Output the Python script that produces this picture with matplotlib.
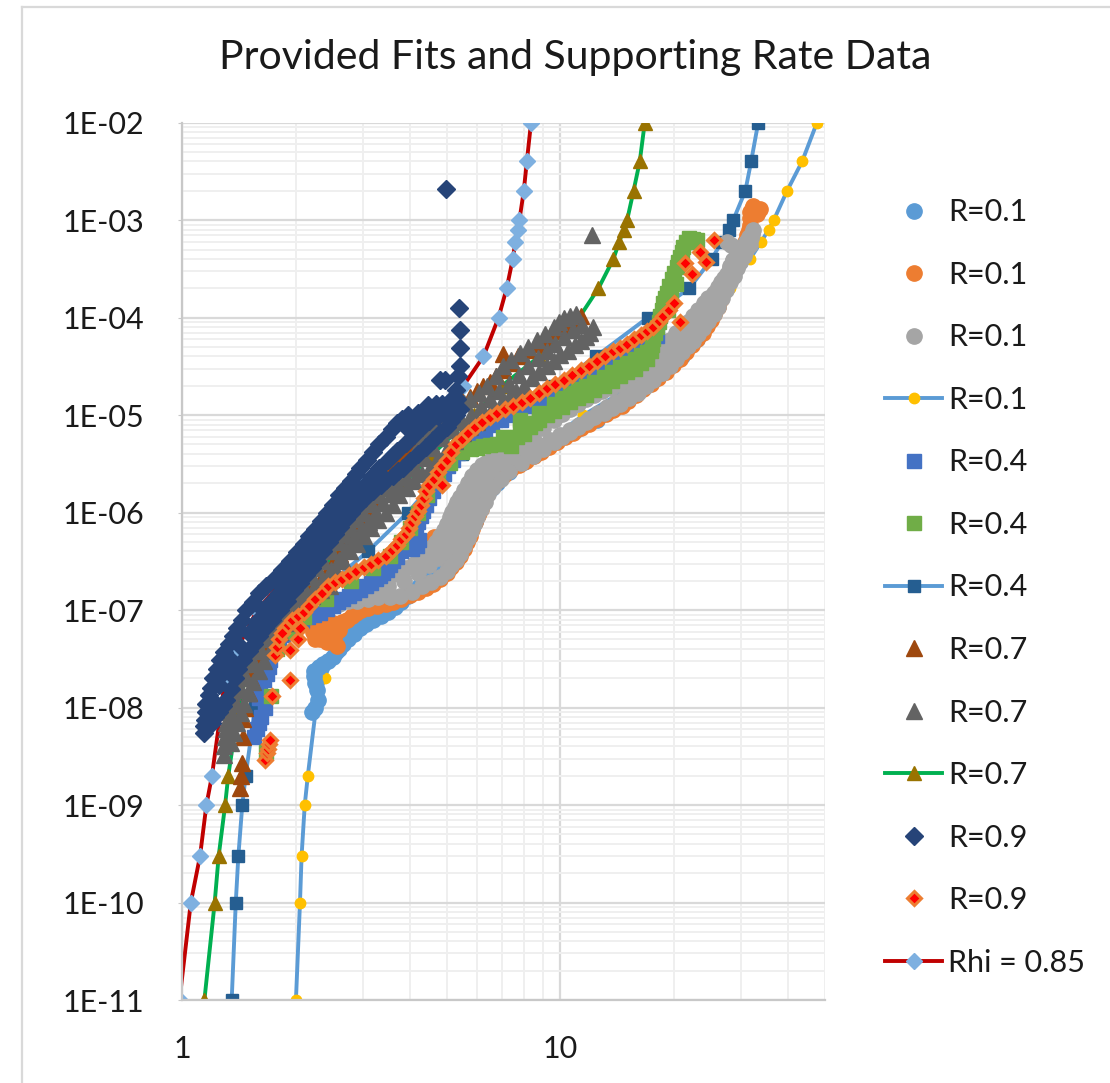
import numpy as np
import matplotlib
matplotlib.use("Agg")
import matplotlib.pyplot as plt
from matplotlib.lines import Line2D
from matplotlib.ticker import LogLocator, FixedLocator, NullFormatter, FuncFormatter

plt.rcParams['font.family'] = ['Lato', 'DejaVu Sans']

# ---- measured rate data (x = driving force, y = rate) ----
# R=0.1, first set (light blue circles)
r01a_x = [2.2, 2.25, 2.29, 2.27, 2.25, 2.23, 2.23, 2.3, 2.36, 2.43, 2.5, 2.55, 2.6, 2.67, 2.75, 2.85,
          2.95, 3.07, 3.2, 3.35, 3.5, 3.65, 3.8, 3.95, 4.09, 4.25, 4.4, 4.6, 4.8, 4.97, 5.15, 5.3,
          5.43, 5.57, 5.7, 5.82, 5.95, 6.05, 6.13, 6.25, 6.4, 6.6, 6.79, 7.3, 8.0, 8.8, 9.8, 11.0,
          12.5, 14.0, 15.5, 17.0, 19.0, 21.0, 23.0, 24.5, 26.0, 27.5, 29.0, 30.5]
r01a_y = [9e-9, 1e-8, 1.2e-8, 1.5e-8, 1.8e-8, 2.1e-8, 2.4e-8, 2.6e-8, 2.8e-8, 3e-8, 3.3e-8, 3.7e-8,
          4e-8, 4.5e-8, 5e-8, 5.7e-8, 6.5e-8, 7.2e-8, 8e-8, 8.8e-8, 9.5e-8, 1.07e-7, 1.2e-7, 1.4e-7,
          1.6e-7, 1.8e-7, 2e-7, 2.3e-7, 2.6e-7, 2.9e-7, 3.2e-7, 3.5e-7, 3.8e-7, 4.5e-7, 5.5e-7,
          6.6e-7, 8e-7, 9.6e-7, 1.15e-6, 1.35e-6, 1.6e-6, 1.8e-6, 2e-6, 2.6e-6, 3.3e-6, 4.2e-6,
          5.5e-6, 7e-6, 9e-6, 1.2e-5, 1.6e-5, 2.1e-5, 3e-5, 4e-5, 6e-5, 9e-5, 1.4e-4, 2.2e-4,
          3.5e-4, 5.5e-4]

# R=0.1, second set (orange circles)
r01b_x = [2.22, 2.25, 2.28, 2.3, 2.32, 2.36, 2.4, 2.42, 2.46, 2.5, 2.52, 2.55, 2.56, 2.6, 2.65,
          2.73, 2.81, 2.89, 2.98, 3.1, 3.27, 3.45, 3.62, 3.8, 4.0, 4.2, 4.4, 4.6, 4.62, 4.8, 5.0,
          5.15, 5.3, 5.43, 5.55, 5.65, 5.75, 5.85, 5.95, 6.05, 6.15, 6.27, 6.4, 6.6, 6.8, 7.1, 7.4,
          7.75, 8.1, 8.5, 8.9, 9.35, 9.8, 10.3, 10.8, 11.3, 11.9, 12.5, 13.2, 13.8, 14.5, 15.1,
          15.8, 16.5, 17.3, 18.1, 19.0, 19.8, 20.7, 21.5, 22.3, 23.0, 23.8, 24.4, 25.0, 25.5, 26.0,
          26.5, 27.0, 27.6, 28.2, 28.7, 29.2, 29.7, 30.2, 30.7, 31.2, 31.5, 31.7, 31.7, 31.7, 32.0,
          32.3, 33.0, 33.3, 33.6]
r01b_y = [6e-8, 5e-8, 5.5e-8, 7e-8, 5e-8, 6.2e-8, 6.8e-8, 4.7e-8, 5.9e-8, 7.3e-8, 5.2e-8, 7e-8,
          4.3e-8, 6.3e-8, 7.6e-8, 7.9e-8, 8.6e-8, 9.4e-8, 1e-7, 1.05e-7, 1.1e-7, 1.15e-7, 1.22e-7,
          1.3e-7, 1.42e-7, 1.55e-7, 1.7e-7, 1.85e-7, 5.6e-7, 2.1e-7, 2.4e-7, 2.75e-7, 3.1e-7,
          3.6e-7, 4.2e-7, 5e-7, 5.8e-7, 6.8e-7, 8e-7, 9.4e-7, 1.1e-6, 1.33e-6, 1.6e-6, 1.85e-6,
          2.1e-6, 2.45e-6, 2.8e-6, 3.1e-6, 3.4e-6, 3.8e-6, 4.2e-6, 4.7e-6, 5.3e-6, 5.9e-6, 6.6e-6,
          7.4e-6, 8.2e-6, 9.2e-6, 1.02e-5, 1.12e-5, 1.25e-5, 1.4e-5, 1.6e-5, 1.85e-5, 2.1e-5,
          2.4e-5, 2.8e-5, 3.3e-5, 3.8e-5, 4.4e-5, 5.2e-5, 6e-5, 7e-5, 8.2e-5, 9.5e-5, 1.1e-4,
          1.3e-4, 1.55e-4, 1.9e-4, 2.3e-4, 2.7e-4, 3.2e-4, 3.8e-4, 4.5e-4, 5.2e-4, 6e-4, 7e-4,
          8e-4, 9e-4, 1.05e-3, 1.2e-3, 1.3e-3, 1.4e-3, 1.15e-3, 1.25e-3, 1.3e-3]

# R=0.1, third set (grey circles): upper edge, lower edge, then the middle of the cloud
r01c_x = [2.6, 2.75, 2.9, 3.1, 3.3, 3.5, 3.7, 3.9, 4.1, 4.28, 4.45, 4.58, 4.7, 4.8, 4.91, 5.0, 5.1,
          5.18, 5.25, 5.33, 5.43, 5.55, 5.7, 5.85, 6.0, 6.2, 6.4, 6.65, 6.93, 7.25, 7.6, 8.0, 8.46,
          9.0, 9.6, 10.1, 10.6, 11.1, 11.7, 12.3, 12.9, 13.6, 14.4, 15.1, 15.8, 16.3, 16.8, 17.2,
          17.6, 18.5, 19.5, 20.2, 21.0, 21.7, 22.4, 23.1, 23.9, 24.6, 25.4, 26.0, 26.5, 27.0, 27.5,
          28.0, 28.6, 27.5, 28.3, 29.2, 29.8, 30.4, 31.0, 31.4, 31.8, 32.0, 32.3,
          2.9, 3.1, 3.3, 3.55, 3.77, 4.05, 4.3, 4.55, 4.81, 5.0, 5.15, 5.3, 5.43, 5.57, 5.7, 5.8,
          5.9, 6.0, 6.15, 6.3, 6.45, 6.65, 6.95, 7.3, 7.85, 8.46, 9.0, 9.6, 10.1, 10.6, 11.1, 11.7,
          12.3, 13.0, 13.7, 14.4, 15.2, 16.0, 16.8, 17.6, 18.5, 19.5, 20.2, 21.0, 21.7, 22.4, 23.1,
          23.8, 24.6, 25.4, 26.1, 26.8, 27.4, 28.0, 28.7, 29.3, 29.9, 30.5, 31.0, 31.6,
          2.75, 3.1, 3.5, 3.85, 4.2, 4.5, 4.75, 4.95, 5.1, 5.25, 5.35, 5.45, 5.55, 5.63, 5.7, 5.8,
          5.9, 6.05, 6.2, 6.4, 6.6, 7.0, 7.5, 8.1, 8.8, 9.4, 10.0, 10.6, 11.2, 11.9, 12.6, 13.3,
          14.0, 14.8, 15.6, 16.5, 17.3, 18.0, 18.6, 19.4, 20.2, 20.8, 21.5, 22.2, 23.0, 23.8, 24.5,
          25.3, 26.0, 26.8, 27.6, 28.1, 28.6, 29.3, 30.0, 30.5, 31.0, 31.4]
r01c_y = [1.15e-7, 1.3e-7, 1.5e-7, 1.7e-7, 1.9e-7, 2.15e-7, 2.4e-7, 2.7e-7, 3.0e-7, 3.4e-7, 3.8e-7,
          4.4e-7, 5e-7, 5.8e-7, 6.6e-7, 7.7e-7, 9e-7, 1.02e-6, 1.15e-6, 1.3e-6, 1.46e-6, 1.7e-6,
          2.0e-6, 2.35e-6, 2.75e-6, 3.05e-6, 3.3e-6, 3.6e-6, 3.9e-6, 4.3e-6, 4.8e-6, 5.3e-6, 6e-6,
          7.3e-6, 8.9e-6, 1.02e-5, 1.15e-5, 1.3e-5, 1.45e-5, 1.6e-5, 1.75e-5, 1.9e-5, 2.1e-5,
          2.4e-5, 2.8e-5, 3.1e-5, 3.5e-5, 3.9e-5, 4.3e-5, 5.1e-5, 5.9e-5, 6.9e-5, 8e-5, 9.1e-5,
          1.03e-4, 1.2e-4, 1.4e-4, 1.6e-4, 1.8e-4, 2.05e-4, 2.3e-4, 2.55e-4, 2.8e-4, 3.4e-4, 3.9e-4,
          6e-4, 5.5e-4, 4.3e-4, 4.6e-4, 5e-4, 5.3e-4, 5.9e-4, 6.5e-4, 7.2e-4, 8e-4,
          1.25e-7, 1.3e-7, 1.35e-7, 1.37e-7, 1.4e-7, 1.55e-7, 1.75e-7, 1.95e-7, 2.2e-7, 2.5e-7,
          2.9e-7, 3.3e-7, 3.8e-7, 4.5e-7, 5.5e-7, 6.5e-7, 7.7e-7, 9.1e-7, 1.1e-6, 1.3e-6, 1.55e-6,
          1.85e-6, 2.2e-6, 2.7e-6, 3.2e-6, 3.8e-6, 4.5e-6, 5.3e-6, 6e-6, 6.7e-6, 7.6e-6, 8.5e-6,
          9.5e-6, 1.05e-5, 1.17e-5, 1.3e-5, 1.5e-5, 1.7e-5, 2e-5, 2.3e-5, 2.7e-5, 3.2e-5, 3.8e-5,
          4.4e-5, 5.1e-5, 5.8e-5, 6.8e-5, 7.8e-5, 9.2e-5, 1.1e-4, 1.3e-4, 1.6e-4, 1.9e-4, 2.3e-4,
          2.7e-4, 3.2e-4, 3.7e-4, 4.3e-4, 4.9e-4, 5.5e-4,
          1.25e-7, 1.5e-7, 1.75e-7, 2.0e-7, 2.4e-7, 2.9e-7, 3.4e-7, 3.9e-7, 4.5e-7, 5.2e-7, 6e-7,
          7e-7, 8e-7, 9.5e-7, 1.1e-6, 1.33e-6, 1.6e-6, 1.85e-6, 2.1e-6, 2.45e-6, 2.8e-6, 3.2e-6,
          3.7e-6, 4.3e-6, 4.9e-6, 5.6e-6, 6.3e-6, 7.1e-6, 8e-6, 9.2e-6, 1.05e-5, 1.2e-5, 1.35e-5,
          1.55e-5, 1.8e-5, 2.1e-5, 2.5e-5, 3e-5, 3.5e-5, 4.1e-5, 4.8e-5, 5.5e-5, 6.3e-5, 7.2e-5,
          8.3e-5, 9.8e-5, 1.15e-4, 1.4e-4, 1.7e-4, 2.1e-4, 2.6e-4, 3.2e-4, 3.9e-4, 4.4e-4, 5.0e-4,
          5.6e-4, 6.0e-4, 6.8e-4]

# R=0.4, first set (blue squares)
r04a_x = [1.55, 1.58, 1.6, 1.62, 1.66, 1.6, 1.61, 1.65, 1.68, 1.70, 1.71, 1.75, 1.8, 1.85, 1.92,
          2.0, 2.08, 2.15, 2.23, 2.32, 2.41, 2.5, 2.58, 2.67, 2.76, 2.85, 2.96, 3.07, 3.16, 3.25,
          3.33, 3.4, 3.48, 3.55, 3.62, 3.69, 3.8, 3.9, 4.05, 4.17, 4.22, 4.1, 4.08, 4.14, 4.2, 4.27,
          4.34, 4.42, 4.5, 4.6, 4.7, 4.8, 4.91, 5.05, 5.2, 5.37, 5.54, 5.75, 6.0, 6.3, 6.6, 6.95,
          7.3, 7.75, 8.2, 8.75, 9.3, 9.9, 10.5, 11.2, 12.0, 12.7, 13.5, 14.2, 15.0, 15.7, 16.5,
          17.2, 18.0]
r04a_y = [5e-9, 6e-9, 7e-9, 8e-9, 1e-8, 1.25e-8, 1.6e-8, 1.9e-8, 2.2e-8, 2.6e-8, 3.1e-8, 4e-8,
          4.8e-8, 5.5e-8, 6.2e-8, 7e-8, 7.8e-8, 8.5e-8, 9e-8, 9.4e-8, 1.02e-7, 1.1e-7, 1.2e-7,
          1.3e-7, 1.4e-7, 1.5e-7, 1.62e-7, 1.75e-7, 1.9e-7, 2.1e-7, 2.25e-7, 2.4e-7, 2.6e-7,
          2.9e-7, 3.2e-7, 3.5e-7, 4e-7, 4.5e-7, 4.2e-7, 4.5e-7, 5.2e-7, 5.5e-7, 6e-7, 7e-7, 8e-7,
          9.2e-7, 1.05e-6, 1.2e-6, 1.4e-6, 1.65e-6, 1.9e-6, 2.2e-6, 2.5e-6, 3e-6, 3.5e-6, 4.1e-6,
          4.7e-6, 5.3e-6, 6e-6, 7e-6, 8e-6, 9e-6, 1e-5, 1.12e-5, 1.25e-5, 1.4e-5, 1.55e-5,
          1.72e-5, 1.9e-5, 2.2e-5, 2.5e-5, 2.85e-5, 3.2e-5, 3.6e-5, 4e-5, 4.5e-5, 5e-5, 5.7e-5,
          6.5e-5]

# R=0.4, second set (green squares)
r04b_x = [1.67, 1.72, 1.78, 1.9, 2.1, 2.4, 2.8, 3.2, 3.55, 3.8, 4.0, 4.2, 4.45, 4.75, 5.1, 5.5,
          5.8, 6.0, 6.25, 6.5, 6.8, 7.07, 7.07, 7.4, 7.66, 7.8, 7.8, 8.0, 8.3, 8.55, 8.8, 8.8, 9.2,
          9.6, 9.6, 10.1, 10.1, 10.6, 10.6, 11.1, 11.1, 11.7, 11.7, 12.3, 12.3, 13.0, 13.0, 13.7,
          13.7, 14.4, 14.4, 15.0, 15.0, 15.7, 15.7, 16.3, 16.3, 16.9, 16.9, 17.3, 17.5, 17.6, 17.8,
          18.0, 18.2, 18.3, 18.5, 18.7, 18.9, 19.1, 19.4, 19.7, 20.0, 20.3, 20.5, 20.7, 20.9, 21.1,
          21.5, 21.9, 22.4, 23.0, 22.3, 19.2, 19.6, 20.2]
r04b_y = [3.5e-9, 1.3e-8, 4e-8, 6e-8, 8.5e-8, 1.3e-7, 2e-7, 2.7e-7, 3.6e-7, 5e-7, 7e-7, 1e-6,
          1.5e-6, 2.2e-6, 3.2e-6, 4.2e-6, 4.5e-6, 4.6e-6, 4.8e-6, 4.9e-6, 5e-6, 5.1e-6, 6e-6,
          4.8e-6, 6e-6, 7.2e-6, 8.9e-6, 6.4e-6, 7.5e-6, 8.3e-6, 9e-6, 1.05e-5, 1e-5, 1.1e-5,
          1.3e-5, 1.2e-5, 1.5e-5, 1.35e-5, 1.7e-5, 1.5e-5, 1.85e-5, 1.6e-5, 2e-5, 1.8e-5, 2.2e-5,
          2e-5, 2.45e-5, 2.25e-5, 2.8e-5, 2.5e-5, 3.1e-5, 2.8e-5, 3.4e-5, 3e-5, 3.8e-5, 3.4e-5,
          4.1e-5, 3.8e-5, 4.4e-5, 4.5e-5, 5.2e-5, 6e-5, 7e-5, 8e-5, 9e-5, 1.03e-4, 1.2e-4, 1.4e-4,
          1.6e-4, 1.8e-4, 2.1e-4, 2.5e-4, 2.9e-4, 3.3e-4, 3.7e-4, 4.2e-4, 4.7e-4, 5.3e-4, 6e-4,
          6.5e-4, 6.4e-4, 6.3e-4, 6.0e-4, 1.2e-4, 1.6e-4, 2.2e-4]

# R=0.7, first set (brown triangles)
r07a_x = [1.42, 1.43, 1.44, 1.45, 1.45, 1.47, 1.50, 1.52, 1.55, 1.59, 1.65, 1.72, 1.82, 1.91, 1.95,
          2.03, 2.1, 2.18, 2.25, 2.33, 2.4, 2.48, 2.55, 2.62, 2.7, 2.78, 2.85, 2.9, 2.95, 3.02, 3.1,
          3.18, 3.25, 3.32, 3.4, 3.5, 3.6, 3.72, 3.85, 3.97, 4.1, 4.25, 4.4, 4.57, 4.75, 4.92, 5.1,
          5.3, 5.5, 5.75, 6.0, 6.25, 6.5, 6.75, 7.05, 7.05, 7.35, 7.7, 8.2, 8.67, 9.0, 9.4, 9.8,
          10.2, 10.7, 11.3]
r07a_y = [1.5e-9, 2e-9, 2.7e-9, 5e-9, 7.6e-9, 1e-8, 1.4e-8, 2e-8, 2.5e-8, 3.1e-8, 4.2e-8, 5.5e-8,
          7.5e-8, 2.8e-7, 1.0e-7, 1.15e-7, 1.35e-7, 1.55e-7, 1.8e-7, 2.1e-7, 2.4e-7, 2.8e-7, 3.3e-7,
          3.8e-7, 4.5e-7, 5.3e-7, 6.2e-7, 7.3e-7, 8.5e-7, 1e-6, 1.15e-6, 1.35e-6, 1.6e-6, 1.9e-6,
          2.2e-6, 2.5e-6, 2.9e-6, 3.4e-6, 3.9e-6, 4.4e-6, 5.0e-6, 5.7e-6, 6.5e-6, 7.5e-6, 8.5e-6,
          9.7e-6, 1.1e-5, 1.25e-5, 1.4e-5, 1.55e-5, 1.75e-5, 2e-5, 2.2e-5, 2.5e-5, 2.9e-5, 4.2e-5,
          3.4e-5, 4.0e-5, 4.7e-5, 5.4e-5, 5.9e-5, 6.5e-5, 7.3e-5, 8.1e-5, 9e-5, 1.03e-4]

# R=0.7, second set (dark grey triangles): left edge, right edge, middle
r07b_x = [1.29, 1.295, 1.30, 1.305, 1.31, 1.325, 1.34, 1.355, 1.37, 1.41, 1.45, 1.49, 1.53, 1.57,
          1.61, 1.68, 1.75, 1.82, 1.9, 2.0, 2.09, 2.2, 2.28, 2.36, 2.48, 2.6, 2.7, 2.8, 2.9, 3.01,
          3.15, 3.3, 3.42, 3.55, 3.7, 3.84, 3.97, 4.1, 4.25, 4.43, 4.6, 4.8, 5.05, 5.3, 5.55, 5.77,
          6.1, 6.4, 6.75, 7.07, 7.4, 7.8, 8.2, 8.67, 9.1, 9.6, 9.9, 10.2, 10.6, 11.0,
          1.35, 1.375, 1.40, 1.43, 1.46, 1.50, 1.54, 1.6, 1.65, 1.72, 1.81, 1.88, 1.95, 2.07, 2.2,
          2.33, 2.46, 2.56, 2.67, 2.78, 2.9, 3.02, 3.15, 3.3, 3.47, 3.6, 3.75, 3.92, 4.1, 4.3, 4.52,
          4.75, 5.0, 5.27, 5.54, 5.77, 6.0, 6.3, 6.6, 6.95, 7.3, 7.65, 8.0, 8.4, 8.8, 9.2, 9.6,
          10.0, 10.5, 10.9, 11.3, 11.7, 12.0, 12.2, 12.1,
          1.33, 1.36, 1.39, 1.43, 1.48, 1.55, 1.62, 1.7, 1.78, 1.87, 1.98, 2.1, 2.22, 2.35, 2.48,
          2.6, 2.72, 2.85, 2.98, 3.12, 3.25, 3.4, 3.56, 3.72, 3.9, 4.12, 4.35, 4.6, 4.9, 5.2, 5.5,
          5.8, 6.15, 6.5, 6.9, 7.3, 7.75, 8.2, 8.7, 9.2, 9.7, 10.2, 10.8, 11.4]
r07b_y = [3.3e-9, 4e-9, 5e-9, 6e-9, 7e-9, 9e-9, 1.1e-8, 1.45e-8, 1.85e-8, 2.3e-8, 2.8e-8, 3.4e-8,
          4e-8, 4.9e-8, 5.9e-8, 7.1e-8, 8.5e-8, 1e-7, 1.2e-7, 1.45e-7, 1.75e-7, 2.2e-7, 2.7e-7,
          3.2e-7, 4e-7, 5e-7, 6e-7, 7e-7, 8.5e-7, 1e-6, 1.22e-6, 1.5e-6, 1.8e-6, 2.1e-6, 2.5e-6,
          2.9e-6, 3.4e-6, 4e-6, 5e-6, 6.5e-6, 7.7e-6, 9e-6, 1.05e-5, 1.2e-5, 1.33e-5, 1.45e-5,
          1.7e-5, 2e-5, 2.5e-5, 3.2e-5, 3.7e-5, 4.3e-5, 5e-5, 5.9e-5, 6.8e-5, 8e-5, 9e-5, 1.0e-4,
          1.05e-4, 1.1e-4,
          4.3e-9, 5.5e-9, 6.9e-9, 8.7e-9, 1.1e-8, 1.4e-8, 1.85e-8, 2.4e-8, 3e-8, 4e-8, 5.9e-8,
          7.3e-8, 9e-8, 1.1e-7, 1.4e-7, 1.6e-7, 1.75e-7, 2.4e-7, 3.2e-7, 4e-7, 4.8e-7, 5.8e-7,
          7e-7, 8.4e-7, 1e-6, 1.2e-6, 1.5e-6, 1.8e-6, 2.1e-6, 2.5e-6, 2.9e-6, 3.6e-6, 4.5e-6,
          5.4e-6, 6.5e-6, 7.5e-6, 8.5e-6, 1e-5, 1.15e-5, 1.3e-5, 1.5e-5, 1.75e-5, 2e-5, 2.4e-5,
          2.8e-5, 3.2e-5, 3.6e-5, 4.1e-5, 4.6e-5, 5.2e-5, 5.8e-5, 6.4e-5, 7e-5, 8.1e-5, 7.1e-4,
          6e-9, 8e-9, 1.1e-8, 1.5e-8, 2e-8, 2.8e-8, 3.8e-8, 5e-8, 6.5e-8, 8.5e-8, 1.1e-7, 1.35e-7,
          1.6e-7, 2e-7, 2.6e-7, 3.3e-7, 4.2e-7, 5.3e-7, 6.6e-7, 8e-7, 1e-6, 1.25e-6, 1.55e-6,
          1.9e-6, 2.3e-6, 2.9e-6, 3.6e-6, 4.6e-6, 5.8e-6, 7e-6, 8.5e-6, 1e-5, 1.2e-5, 1.45e-5,
          1.75e-5, 2.1e-5, 2.6e-5, 3.2e-5, 3.9e-5, 4.6e-5, 5.4e-5, 6.4e-5, 7.5e-5, 8.5e-5]

# R=0.9, first set (navy diamonds): left edge, right edge, middle, top of the cloud, stragglers
r09a_x = [1.14, 1.145, 1.15, 1.155, 1.16, 1.175, 1.19, 1.21, 1.235, 1.26, 1.29, 1.33, 1.36, 1.40,
          1.44, 1.48, 1.54, 1.60, 1.67, 1.75, 1.84, 1.93, 2.01, 2.1, 2.17, 2.25, 2.33, 2.41, 2.5,
          2.6, 2.7, 2.8, 2.88, 2.96, 3.08, 3.2, 3.32, 3.45, 3.58, 3.7, 3.82, 3.95,
          1.20, 1.22, 1.25, 1.28, 1.31, 1.345, 1.38, 1.41, 1.45, 1.50, 1.55, 1.60, 1.66, 1.73, 1.81,
          1.89, 1.98, 2.05, 2.12, 2.2, 2.27, 2.36, 2.45, 2.53, 2.62, 2.71, 2.8, 2.92, 3.05, 3.2,
          3.35, 3.47, 3.6, 3.72, 3.84, 4.0, 4.2, 4.4, 4.6, 4.8, 5.0, 5.15, 5.3, 5.42,
          1.17, 1.2, 1.25, 1.29, 1.35, 1.42, 1.5, 1.57, 1.64, 1.72, 1.8, 1.88, 1.97, 2.06, 2.15,
          2.25, 2.34, 2.44, 2.54, 2.62, 2.74, 2.86, 3.0, 3.15, 3.32, 3.5, 3.7, 3.9, 4.1, 4.3, 4.5,
          4.72, 4.95, 5.2,
          3.9, 4.05, 4.15, 4.2, 4.3, 4.4, 4.45, 4.55, 4.65, 4.75, 4.85, 5.0, 5.1, 5.25,
          4.48, 4.7, 4.8, 4.95, 5.2, 5.32, 5.3, 5.35, 5.43, 5.43, 5.43, 5.4, 4.98]
r09a_y = [5.5e-9, 6.5e-9, 7.5e-9, 9e-9, 1.1e-8, 1.35e-8, 1.6e-8, 2e-8, 2.5e-8, 3.1e-8, 3.7e-8,
          4.5e-8, 5.4e-8, 6.5e-8, 8e-8, 1e-7, 1.2e-7, 1.5e-7, 1.75e-7, 2.1e-7, 2.6e-7, 3.2e-7,
          3.9e-7, 4.8e-7, 5.7e-7, 6.8e-7, 8.2e-7, 1e-6, 1.2e-6, 1.5e-6, 1.8e-6, 2.1e-6, 2.5e-6,
          2.9e-6, 3.5e-6, 4.2e-6, 5e-6, 6e-6, 7.2e-6, 8.3e-6, 9.2e-6, 1e-5,
          7e-9, 8e-9, 9e-9, 1.05e-8, 1.2e-8, 1.55e-8, 2e-8, 2.5e-8, 3.1e-8, 3.8e-8, 4.5e-8, 5.4e-8,
          6.5e-8, 8e-8, 1e-7, 1.25e-7, 1.6e-7, 1.9e-7, 2.3e-7, 2.7e-7, 3.2e-7, 4e-7, 5e-7, 6e-7,
          7.2e-7, 8.5e-7, 1e-6, 1.2e-6, 1.4e-6, 1.65e-6, 1.9e-6, 2.15e-6, 2.4e-6, 2.65e-6, 2.9e-6,
          3.4e-6, 4e-6, 4.7e-6, 5.5e-6, 6.5e-6, 7.5e-6, 8.7e-6, 1e-5, 1.15e-5,
          9e-9, 1.2e-8, 1.7e-8, 2.3e-8, 3.1e-8, 4.3e-8, 5.8e-8, 7.5e-8, 1e-7, 1.2e-7, 1.5e-7,
          1.85e-7, 2.3e-7, 2.8e-7, 3.4e-7, 4.2e-7, 5.2e-7, 6.5e-7, 8e-7, 1e-6, 1.25e-6, 1.5e-6,
          1.85e-6, 2.3e-6, 2.9e-6, 3.5e-6, 4.3e-6, 5.2e-6, 6.3e-6, 7.5e-6, 8.7e-6, 1e-5, 1.12e-5,
          1.25e-5,
          7.5e-6, 9e-6, 8e-6, 1.05e-5, 9.3e-6, 1.15e-5, 8.7e-6, 1.05e-5, 1.2e-5, 9.8e-6, 1.3e-5,
          1.1e-5, 1.4e-5, 1.25e-5,
          1.27e-5, 1.3e-5, 2.3e-5, 2.3e-5, 1.5e-5, 1.45e-5, 1.8e-5, 2.5e-5, 3.2e-5,
          4.9e-5, 7.5e-5, 1.25e-4, 2.07e-3]

# R=0.9, second set (red diamonds, orange rim)
r09b_x = [1.66, 1.68, 1.69, 1.70, 1.71, 1.73, 1.93, 1.76, 1.78, 1.80, 1.93, 2.02, 1.87, 2.05, 1.84,
          1.95, 2.02, 2.1, 2.17, 2.25, 2.34, 2.43, 2.54, 2.65, 2.77, 2.89, 3.02, 3.15, 3.3, 3.45,
          3.58, 3.7, 3.8, 3.9, 3.98, 4.05, 4.12, 4.2, 4.27, 4.35, 4.42, 4.5, 4.62, 4.75, 4.86,
          4.87, 5.0, 5.15, 5.3, 5.5, 5.7, 5.95, 6.2, 6.5, 6.8, 7.15, 7.5, 7.9, 8.3, 8.75, 9.2,
          9.7, 10.2, 10.75, 11.3, 11.9, 12.5, 13.1, 13.8, 14.4, 15.0, 15.6, 16.3, 16.9, 17.6,
          18.2, 18.7, 19.3, 19.9, 20.7, 21.3, 22.3, 23.4, 24.3, 25.5]
r09b_y = [2.9e-9, 3.4e-9, 3.8e-9, 4.2e-9, 4.6e-9, 1.3e-8, 1.9e-8, 3.5e-8, 4.2e-8, 5e-8, 3.9e-8,
          5e-8, 6.6e-8, 6.6e-8, 5.8e-8, 8e-8, 8.8e-8, 9.5e-8, 1.1e-7, 1.3e-7, 1.5e-7, 1.75e-7,
          1.95e-7, 2.1e-7, 2.3e-7, 2.5e-7, 2.75e-7, 3e-7, 3.3e-7, 3.6e-7, 4.1e-7, 4.6e-7, 5.3e-7,
          6e-7, 7e-7, 8e-7, 9.2e-7, 1.05e-6, 1.2e-6, 1.4e-6, 1.65e-6, 1.9e-6, 2.2e-6, 2.6e-6,
          1.9e-6, 3e-6, 3.5e-6, 4.2e-6, 5e-6, 5.7e-6, 6.5e-6, 7.5e-6, 8.5e-6, 9.5e-6, 1.05e-5,
          1.15e-5, 1.25e-5, 1.37e-5, 1.5e-5, 1.7e-5, 1.9e-5, 2.1e-5, 2.3e-5, 2.6e-5, 2.9e-5,
          3.2e-5, 3.6e-5, 4e-5, 4.5e-5, 4.9e-5, 5.4e-5, 6e-5, 6.6e-5, 7.3e-5, 8.1e-5, 9.2e-5,
          1.03e-4, 1.2e-4, 1.4e-4, 9.1e-5, 3.6e-4, 2.8e-4, 4.7e-4, 3.7e-4, 6.3e-4]

# ---- provided fits ----
fit01_x = [2.0, 2.05, 2.07, 2.11, 2.15, 2.26, 2.38, 2.55, 2.79, 3.36, 4.3, 5.0, 5.9, 6.8, 8.3, 11.5,
           15.5, 20.0, 25.0, 28.1, 31.7, 33.9, 35.5, 36.6, 39.7, 43.5, 47.6]
fit01_y = [1e-11, 1e-10, 3e-10, 1e-9, 2e-9, 1e-8, 2e-8, 4e-8, 6e-8, 1e-7, 2e-7, 4e-7, 1e-6, 2e-6,
           4e-6, 1e-5, 2e-5, 4e-5, 1e-4, 2e-4, 4e-4, 6e-4, 8e-4, 1e-3, 2e-3, 4e-3, 1e-2]

fit04_x = [1.353, 1.387, 1.409, 1.443, 1.473, 1.56, 1.63, 1.75, 2.05, 2.5, 3.1, 3.95, 4.6, 5.5, 7.4,
           9.6, 12.4, 17.0, 21.9, 25.1, 26.7, 27.8, 28.6, 30.8, 31.9, 33.3]
fit04_y = [1e-11, 1e-10, 3e-10, 1e-9, 2e-9, 1e-8, 2e-8, 4e-8, 1e-7, 2e-7, 4e-7, 1e-6, 2e-6, 4e-6,
           1e-5, 2e-5, 4e-5, 1e-4, 2e-4, 4e-4, 6e-4, 8e-4, 1e-3, 2e-3, 4e-3, 1e-2]

fit07_x = [1.146, 1.22, 1.25, 1.30, 1.325, 1.41, 1.47, 1.58, 1.82, 2.15, 2.6, 3.2, 3.85, 4.6, 5.9,
           7.0, 8.8, 11.2, 12.6, 13.8, 14.3, 14.7, 15.0, 15.6, 16.2, 16.7]
fit07_y = [1e-11, 1e-10, 3e-10, 1e-9, 2e-9, 1e-8, 2e-8, 4e-8, 1e-7, 2e-7, 4e-7, 1e-6, 2e-6, 4e-6,
           1e-5, 2e-5, 4e-5, 1e-4, 2e-4, 4e-4, 6e-4, 8e-4, 1e-3, 2e-3, 4e-3, 1e-2]

fit_hi_x = [0.985, 1.055, 1.116, 1.16, 1.20, 1.27, 1.30, 1.40, 1.58, 1.85, 2.2, 2.62, 3.0, 3.6, 4.9,
            5.54, 6.26, 6.86, 7.21, 7.48, 7.6, 7.74, 7.79, 8.0, 8.15, 8.36]
fit_hi_y = [1e-11, 1e-10, 3e-10, 1e-9, 2e-9, 1e-8, 2e-8, 4e-8, 1e-7, 2e-7, 4e-7, 1e-6, 2e-6, 4e-6,
            1e-5, 2e-5, 4e-5, 1e-4, 2e-4, 4e-4, 6e-4, 8e-4, 1e-3, 2e-3, 4e-3, 1e-2]

x_ticks = [1, 10]
x_tick_labels = ["1", "10"]
y_ticks = [1e-11, 1e-10, 1e-9, 1e-8, 1e-7, 1e-6, 1e-5, 1e-4, 1e-3, 1e-2]

W, H = 1110, 1083
fig = plt.figure(figsize=(W / 100, H / 100), dpi=100)
ax = fig.add_axes([182 / W, 1 - 1000 / H, (825 - 182) / W, (1000 - 122.7) / H])
ax.set_xscale('log')
ax.set_yscale('log')
ax.set_xlim(1, 50)
ax.set_ylim(1e-11, 1e-2)

# fits sit underneath the data clouds
fit_lw = 2.8
h_fit01, = ax.plot(fit01_x, fit01_y, '-', color='#5B9BD5', lw=fit_lw, marker='o', ms=7.5,
                   mfc='#FFC000', mec='#FFC000', zorder=2, label='R=0.1')
h_fit04, = ax.plot(fit04_x, fit04_y, '-', color='#5B9BD5', lw=fit_lw, marker='s', ms=8.5,
                   mfc='#255E91', mec='#255E91', zorder=2, label='R=0.4')
h_fit07, = ax.plot(fit07_x, fit07_y, '-', color='#00B050', lw=fit_lw, marker='^', ms=10.5,
                   mfc='#997300', mec='#997300', zorder=2, label='R=0.7')
h_fithi, = ax.plot(fit_hi_x, fit_hi_y, '-', color='#C00000', lw=fit_lw, marker='D', ms=8,
                   mfc='#7EB0E0', mec='#7EB0E0', zorder=2, label='Rhi = 0.85')


def scatter(x, y, marker, color, ms, z, label, **kw):
    h, = ax.plot(x, y, ls='none', marker=marker, ms=ms, mfc=color, mec=kw.pop('mec', color),
                 zorder=z, label=label, **kw)
    return h


h_a = scatter(r01a_x, r01a_y, 'o', '#5B9BD5', 11, 3.0, 'R=0.1')
h_b = scatter(r01b_x, r01b_y, 'o', '#ED7D31', 11, 3.1, 'R=0.1')
h_c = scatter(r01c_x, r01c_y, 'o', '#A5A5A5', 11, 3.2, 'R=0.1')
h_d = scatter(r04a_x, r04a_y, 's', '#4472C4', 9.5, 3.3, 'R=0.4')
h_e = scatter(r04b_x, r04b_y, 's', '#70AD47', 9.5, 3.4, 'R=0.4')
h_f = scatter(r07a_x, r07a_y, '^', '#9E480E', 11, 3.5, 'R=0.7')
h_g = scatter(r07b_x, r07b_y, '^', '#636363', 11, 3.6, 'R=0.7')
h_h = scatter(r09a_x, r09a_y, 'D', '#264478', 9, 3.7, 'R=0.9')
h_i = scatter(r09b_x, r09b_y, 'D', '#FF0000', 7, 3.8, 'R=0.9', mec='#ED7D31', mew=2.2)

# gridlines, Excel style log grid
ax.xaxis.set_major_locator(FixedLocator(x_ticks))
ax.xaxis.set_minor_locator(LogLocator(base=10, subs=np.arange(2, 10), numticks=50))
ax.yaxis.set_major_locator(FixedLocator(y_ticks))
ax.yaxis.set_minor_locator(LogLocator(base=10, subs=np.arange(2, 10), numticks=50))
ax.xaxis.set_minor_formatter(NullFormatter())
ax.yaxis.set_minor_formatter(NullFormatter())
ax.set_xticklabels(x_tick_labels)
ax.yaxis.set_major_formatter(FuncFormatter(lambda v, _: "1E-%02d" % int(round(-np.log10(v)))))
ax.grid(which='major', color='#D9D9D9', lw=1.6)
ax.grid(which='minor', color='#EFEFEF', lw=1.4)
ax.set_axisbelow(True)
for s in ['top', 'right']:
    ax.spines[s].set_visible(False)
for s in ['left', 'bottom']:
    ax.spines[s].set_color('#C8C8C8')
    ax.spines[s].set_linewidth(1.6)
ax.tick_params(which='minor', length=0)
ax.tick_params(axis='y', which='major', length=3, color='#C8C8C8', pad=24, labelsize=22,
               labelcolor='#1a1a1a')
ax.tick_params(axis='x', which='major', length=0, pad=25, labelsize=22, labelcolor='#1a1a1a')

fig.text(575 / W, 1 - 58 / H, 'Provided Fits and Supporting Rate Data', ha='center', va='center',
         fontsize=29.5, color='#1a1a1a')

handles = [h_a, h_b, h_c, h_fit01, h_d, h_e, h_fit04, h_f, h_g, h_fit07, h_h, h_i, h_fithi]
fig.legend(handles=handles, labels=[h.get_label() for h in handles], loc='center left',
           bbox_to_anchor=(885 / W, 1 - 587.5 / H), frameon=False, fontsize=22, numpoints=1,
           handlelength=1.87, handletextpad=0.2, labelspacing=1.13, borderpad=0,
           borderaxespad=0, labelcolor='#1a1a1a')

# light frame around the chart area
fig.add_artist(Line2D([22 / W, 22 / W], [0, 1 - 7 / H], transform=fig.transFigure,
                      color='#D9D9D9', lw=1.6))
fig.add_artist(Line2D([22 / W, 1], [1 - 7 / H, 1 - 7 / H], transform=fig.transFigure,
                      color='#D9D9D9', lw=1.6))

fig.savefig('out.png', dpi=100)
